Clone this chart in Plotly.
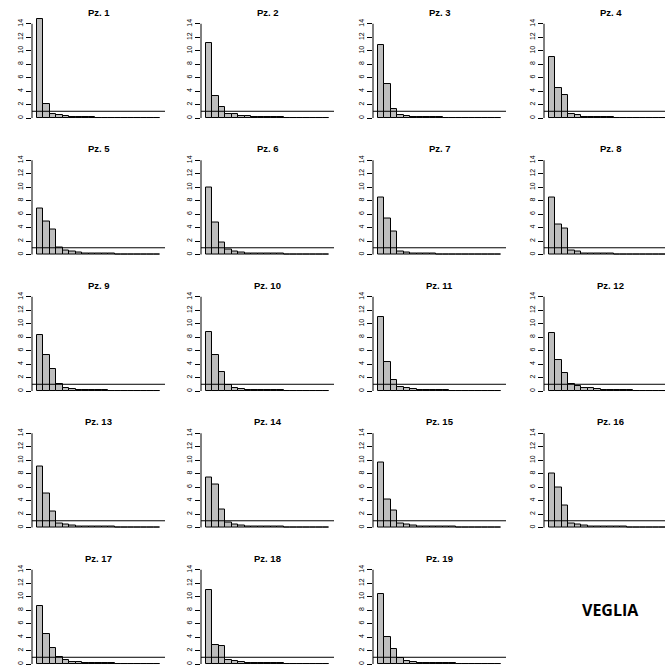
import plotly.graph_objects as go

# Eigenvalues (19 components) for each subject panel
pz1 = [14.7, 2.1, 0.55, 0.45, 0.3, 0.15, 0.12, 0.09, 0.08, 0.07, 0.06, 0.05, 0.05, 0.04, 0.03, 0.03, 0.02, 0.02, 0.01]
pz2 = [11.1, 3.25, 1.7, 0.6, 0.6, 0.3, 0.28, 0.15, 0.14, 0.12, 0.1, 0.08, 0.06, 0.05, 0.04, 0.03, 0.03, 0.02, 0.01]
pz3 = [10.9, 5.05, 1.4, 0.5, 0.3, 0.15, 0.14, 0.1, 0.09, 0.08, 0.07, 0.06, 0.05, 0.04, 0.03, 0.03, 0.02, 0.02, 0.01]
pz4 = [9.0, 4.4, 3.4, 0.6, 0.4, 0.15, 0.12, 0.1, 0.09, 0.08, 0.07, 0.06, 0.05, 0.04, 0.03, 0.03, 0.02, 0.02, 0.01]
pz5 = [6.8, 4.95, 3.7, 1.0, 0.6, 0.4, 0.25, 0.15, 0.15, 0.1, 0.09, 0.08, 0.07, 0.06, 0.05, 0.04, 0.03, 0.02, 0.01]
pz6 = [10.0, 4.8, 1.73, 0.75, 0.4, 0.3, 0.15, 0.15, 0.12, 0.1, 0.09, 0.08, 0.07, 0.06, 0.05, 0.04, 0.03, 0.02, 0.01]
pz7 = [8.4, 5.35, 3.37, 0.4, 0.25, 0.15, 0.1, 0.09, 0.08, 0.07, 0.06, 0.06, 0.05, 0.04, 0.04, 0.03, 0.02, 0.02, 0.01]
pz8 = [8.4, 4.5, 3.85, 0.6, 0.4, 0.15, 0.14, 0.1, 0.09, 0.08, 0.07, 0.06, 0.05, 0.04, 0.03, 0.03, 0.02, 0.02, 0.01]
pz9 = [8.3, 5.4, 3.25, 1.0, 0.4, 0.3, 0.2, 0.12, 0.1, 0.09, 0.08, 0.07, 0.06, 0.05, 0.04, 0.03, 0.03, 0.02, 0.01]
pz10 = [8.7, 5.3, 2.8, 0.9, 0.5, 0.3, 0.2, 0.15, 0.12, 0.1, 0.09, 0.08, 0.07, 0.06, 0.05, 0.04, 0.03, 0.02, 0.01]
pz11 = [11.0, 4.3, 1.7, 0.6, 0.4, 0.3, 0.2, 0.12, 0.1, 0.09, 0.08, 0.07, 0.06, 0.05, 0.04, 0.03, 0.03, 0.02, 0.01]
pz12 = [8.6, 4.6, 2.6, 1.0, 0.7, 0.5, 0.4, 0.3, 0.2, 0.15, 0.12, 0.1, 0.08, 0.07, 0.06, 0.05, 0.04, 0.03, 0.02]
pz13 = [9.0, 5.0, 2.4, 0.6, 0.5, 0.3, 0.2, 0.15, 0.12, 0.1, 0.09, 0.08, 0.07, 0.06, 0.05, 0.04, 0.03, 0.02, 0.01]
pz14 = [7.4, 6.4, 2.6, 0.8, 0.5, 0.3, 0.2, 0.15, 0.12, 0.1, 0.09, 0.08, 0.07, 0.06, 0.05, 0.04, 0.03, 0.02, 0.01]
pz15 = [9.7, 4.2, 2.5, 0.6, 0.5, 0.3, 0.2, 0.15, 0.12, 0.1, 0.09, 0.08, 0.07, 0.06, 0.05, 0.04, 0.03, 0.02, 0.01]
pz16 = [8.0, 5.9, 3.2, 0.6, 0.5, 0.3, 0.2, 0.15, 0.12, 0.1, 0.09, 0.08, 0.07, 0.06, 0.05, 0.04, 0.03, 0.02, 0.01]
pz17 = [8.65, 4.47, 2.36, 0.98, 0.6, 0.35, 0.35, 0.2, 0.2, 0.1, 0.09, 0.08, 0.07, 0.06, 0.05, 0.04, 0.03, 0.02, 0.01]
pz18 = [11.05, 2.85, 2.7, 0.6, 0.45, 0.3, 0.15, 0.15, 0.12, 0.1, 0.09, 0.08, 0.07, 0.06, 0.05, 0.04, 0.03, 0.02, 0.01]
pz19 = [10.36, 4.08, 2.16, 0.93, 0.45, 0.3, 0.2, 0.15, 0.12, 0.1, 0.09, 0.08, 0.07, 0.06, 0.05, 0.04, 0.03, 0.02, 0.01]

panels = [pz1, pz2, pz3, pz4, pz5, pz6, pz7, pz8, pz9, pz10,
          pz11, pz12, pz13, pz14, pz15, pz16, pz17, pz18, pz19]
titles = ["Pz. %d" % (i + 1) for i in range(19)]
components = list(range(1, 20))
ytick_vals = [0, 2, 4, 6, 8, 10, 12, 14]
ref_level = 1
label_text = "VEGLIA"

W, H = 665, 668
col_left = [32, 201, 373, 544]
plot_w = 133
row_base = [118, 254.5, 391, 527.5, 664]
ppu = 6.73
y_lo, y_hi = -0.5, 15.3
n = len(components)
x_lo = 0.5 - 0.04 * n
unit_px = plot_w / (1.08 * n)

fig = go.Figure()
layout = dict(width=W, height=H, margin=dict(l=0, r=0, t=0, b=0),
              paper_bgcolor="white", plot_bgcolor="white",
              showlegend=False, bargap=0,
              font=dict(family="Liberation Sans, Arial", color="black"))
shapes = []
annotations = []

for i, vals in enumerate(panels):
    r, c = divmod(i, 4)
    k = i + 1
    xa = "x" if k == 1 else "x%d" % k
    ya = "y" if k == 1 else "y%d" % k
    left = col_left[c]
    right = min(left + plot_w, W)
    x_hi = x_lo + (right - left) / unit_px
    y0 = row_base[r]
    bottom = y0 - y_lo * ppu
    top = y0 - y_hi * ppu
    fig.add_trace(go.Bar(x=components, y=vals, xaxis=xa, yaxis=ya, width=1,
                         marker=dict(color="#BEBEBE", line=dict(color="black", width=1))))
    layout["xaxis" if k == 1 else "xaxis%d" % k] = dict(
        domain=[left / W, right / W], range=[x_lo, x_hi], visible=False,
        anchor=ya, fixedrange=True)
    layout["yaxis" if k == 1 else "yaxis%d" % k] = dict(
        domain=[(H - bottom) / H, (H - top) / H], range=[y_lo, y_hi],
        anchor=xa, showgrid=False, zeroline=False, showline=False,
        tickmode="array", tickvals=ytick_vals, ticktext=[str(v) for v in ytick_vals],
        ticks="outside", ticklen=5, tickwidth=1, tickcolor="black",
        tickangle=-90, tickfont=dict(size=7, color="black"), fixedrange=True)
    dom_ref = ("x" if k == 1 else "x%d" % k) + " domain"
    shapes.append(dict(type="line", xref=dom_ref, yref=ya, x0=0, x1=1,
                       y0=ref_level, y1=ref_level, line=dict(color="black", width=1)))
    shapes.append(dict(type="line", xref=dom_ref, yref=ya, x0=0, x1=0,
                       y0=ytick_vals[0], y1=ytick_vals[-1], line=dict(color="black", width=1)))
    annotations.append(dict(text="<b>%s</b>" % titles[i], xref="paper", yref="paper",
                            x=(left + plot_w / 2) / W, y=1 - (y0 - 106) / H,
                            xanchor="center", yanchor="middle", showarrow=False,
                            font=dict(size=9.5, color="black", family="Liberation Sans, Arial")))

annotations.append(dict(text="<b>%s</b>" % label_text, xref="paper", yref="paper",
                        x=610 / W, y=1 - 610 / H, xanchor="center", yanchor="middle",
                        showarrow=False,
                        font=dict(size=16, color="black", family="Open Sans, Noto Sans")))

layout["shapes"] = shapes
layout["annotations"] = annotations
fig.update_layout(**layout)
fig.write_html("out.html")
